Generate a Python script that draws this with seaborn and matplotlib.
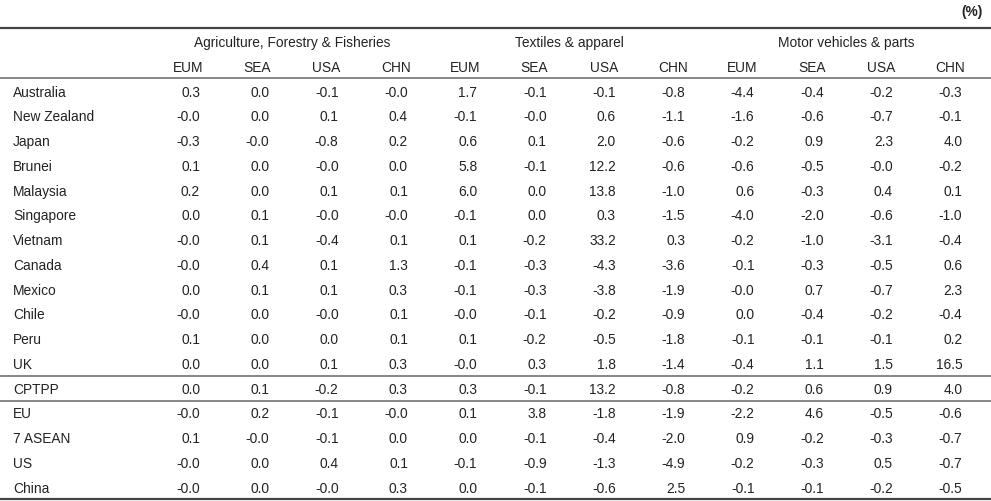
import matplotlib
matplotlib.use("Agg")
import matplotlib.pyplot as plt
import seaborn as sns
import numpy as np
import pandas as pd

# ---------------- data ----------------
groups = ["Agriculture, Forestry & Fisheries", "Textiles & apparel", "Motor vehicles & parts"]
regions = ["EUM", "SEA", "USA", "CHN"]
row_labels = ["Australia", "New Zealand", "Japan", "Brunei", "Malaysia", "Singapore",
              "Vietnam", "Canada", "Mexico", "Chile", "Peru", "UK", "CPTPP",
              "EU", "7 ASEAN", "US", "China"]

australia   = [0.3, 0.0, -0.1, -0.0, 1.7, -0.1, -0.1, -0.8, -4.4, -0.4, -0.2, -0.3]
new_zealand = [-0.0, 0.0, 0.1, 0.4, -0.1, -0.0, 0.6, -1.1, -1.6, -0.6, -0.7, -0.1]
japan       = [-0.3, -0.0, -0.8, 0.2, 0.6, 0.1, 2.0, -0.6, -0.2, 0.9, 2.3, 4.0]
brunei      = [0.1, 0.0, -0.0, 0.0, 5.8, -0.1, 12.2, -0.6, -0.6, -0.5, -0.0, -0.2]
malaysia    = [0.2, 0.0, 0.1, 0.1, 6.0, 0.0, 13.8, -1.0, 0.6, -0.3, 0.4, 0.1]
singapore   = [0.0, 0.1, -0.0, -0.0, -0.1, 0.0, 0.3, -1.5, -4.0, -2.0, -0.6, -1.0]
vietnam     = [-0.0, 0.1, -0.4, 0.1, 0.1, -0.2, 33.2, 0.3, -0.2, -1.0, -3.1, -0.4]
canada      = [-0.0, 0.4, 0.1, 1.3, -0.1, -0.3, -4.3, -3.6, -0.1, -0.3, -0.5, 0.6]
mexico      = [0.0, 0.1, 0.1, 0.3, -0.1, -0.3, -3.8, -1.9, -0.0, 0.7, -0.7, 2.3]
chile       = [-0.0, 0.0, -0.0, 0.1, -0.0, -0.1, -0.2, -0.9, 0.0, -0.4, -0.2, -0.4]
peru        = [0.1, 0.0, 0.0, 0.1, 0.1, -0.2, -0.5, -1.8, -0.1, -0.1, -0.1, 0.2]
uk          = [0.0, 0.0, 0.1, 0.3, -0.0, 0.3, 1.8, -1.4, -0.4, 1.1, 1.5, 16.5]
cptpp       = [0.0, 0.1, -0.2, 0.3, 0.3, -0.1, 13.2, -0.8, -0.2, 0.6, 0.9, 4.0]
eu          = [-0.0, 0.2, -0.1, -0.0, 0.1, 3.8, -1.8, -1.9, -2.2, 4.6, -0.5, -0.6]
asean7      = [0.1, -0.0, -0.1, 0.0, 0.0, -0.1, -0.4, -2.0, 0.9, -0.2, -0.3, -0.7]
us          = [-0.0, 0.0, 0.4, 0.1, -0.1, -0.9, -1.3, -4.9, -0.2, -0.3, 0.5, -0.7]
china       = [-0.0, 0.0, -0.0, 0.3, 0.0, -0.1, -0.6, 2.5, -0.1, -0.1, -0.2, -0.5]

values = [australia, new_zealand, japan, brunei, malaysia, singapore, vietnam,
          canada, mexico, chile, peru, uk, cptpp, eu, asean7, us, china]
unit_label = "(%)"

columns = pd.MultiIndex.from_product([groups, regions])
df = pd.DataFrame(values, index=row_labels, columns=columns)

# ---------------- layout ----------------
sns.set_theme(style="white")
plt.rcParams["font.family"] = ["Liberation Sans", "DejaVu Sans"]

W, H = 991, 501
fig = plt.figure(figsize=(W / 100, H / 100), dpi=100)
ax = fig.add_axes([0, 0, 1, 1])
ax.set_xlim(0, W)
ax.set_ylim(H, 0)
ax.axis("off")

fs = 9.9
tc = "#222222"
col0 = 188.0
dcol = 69.3
rnum = 12.0
row0 = 91.6
drow = 24.75
cap_half = 5.0

col_centers = col0 + dcol * np.arange(df.shape[1])
row_centers = row0 + drow * np.arange(df.shape[0])

# unit label
ax.text(983, 15.5, unit_label, ha="right", va="baseline", fontsize=fs,
        fontweight="bold", color=tc)

# group headers
for g, name in enumerate(groups):
    cx = col_centers[g * 4:(g + 1) * 4].mean()
    ax.text(cx, 46.7, name, ha="center", va="baseline", fontsize=fs, color=tc)

# sub headers
for j, (g, r) in enumerate(df.columns):
    ax.text(col_centers[j], 71.7, r, ha="center", va="baseline", fontsize=fs, color=tc)

# body
for i, lab in enumerate(df.index):
    yb = row_centers[i] + cap_half
    ax.text(13, yb, lab, ha="left", va="baseline", fontsize=fs, color=tc)
    for j in range(df.shape[1]):
        v = df.iloc[i, j]
        ax.text(col_centers[j] + rnum, yb, f"{v:.1f}", ha="right", va="baseline",
                fontsize=fs, color=tc)

# rules
ax.plot([0, W], [28.3, 28.3], color="#444444", lw=1.6, solid_capstyle="butt")
ax.plot([0, W], [77.8, 77.8], color="#666666", lw=1.1, solid_capstyle="butt")
sep1 = (row_centers[11] + row_centers[12]) / 2
sep2 = (row_centers[12] + row_centers[13]) / 2
ax.plot([0, W], [sep1, sep1], color="#666666", lw=1.1, solid_capstyle="butt")
ax.plot([0, W], [sep2, sep2], color="#666666", lw=1.1, solid_capstyle="butt")
ax.plot([0, W], [498.5, 498.5], color="#444444", lw=1.6, solid_capstyle="butt")

fig.savefig("out.png", dpi=100, facecolor="white")
